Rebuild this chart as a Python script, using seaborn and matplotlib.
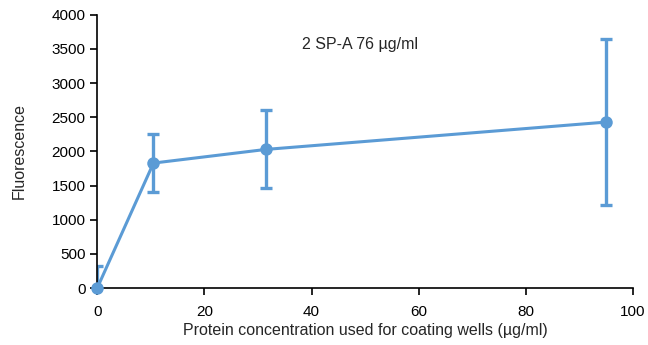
import numpy as np
import matplotlib
matplotlib.use("Agg")
import matplotlib.pyplot as plt
import seaborn as sns
import pandas as pd

# data
conc = [0, 10.5, 31.5, 95]
fluor = [0, 1830, 2030, 2430]
err = [320, 430, 570, 1210]

sns.set_style("ticks")
plt.rcParams["font.family"] = ["Liberation Sans", "DejaVu Sans"]

blue = "#5B9BD5"
df = pd.DataFrame({"conc": conc, "fluor": fluor, "err": err})

fig = plt.figure(figsize=(6.48, 3.45), dpi=100)
ax = fig.add_axes([0.150, 0.165, 0.827, 0.792])

sns.lineplot(data=df, x="conc", y="fluor", color=blue, linewidth=2.2,
             marker="o", markersize=9, markeredgewidth=0, ax=ax, zorder=3,
             clip_on=False)
ax.errorbar(df["conc"], df["fluor"], yerr=df["err"], fmt="none",
            ecolor=blue, elinewidth=2.4, capsize=4, capthick=2.4, zorder=2)

ax.set_xlim(0, 100)
ax.set_ylim(0, 4000)
ax.set_xticks(np.arange(0, 101, 20))
ax.set_yticks(np.arange(0, 4001, 500))
ax.tick_params(labelsize=11, length=5, width=1.2, color="black",
               labelcolor="black")
ax.tick_params(axis="x", pad=7)
for s in ["left", "bottom"]:
    ax.spines[s].set_color("black")
    ax.spines[s].set_linewidth(1.2)
sns.despine(ax=ax)

ax.set_xlabel("Protein concentration used for coating wells (µg/ml)",
              fontsize=11.5, labelpad=3)
ax.set_ylabel("Fluorescence", fontsize=11.5, labelpad=18)
ax.text(49, 3560, "2 SP-A 76 µg/ml", fontsize=11.5, ha="center", va="center")

fig.savefig("out.png", dpi=100)
